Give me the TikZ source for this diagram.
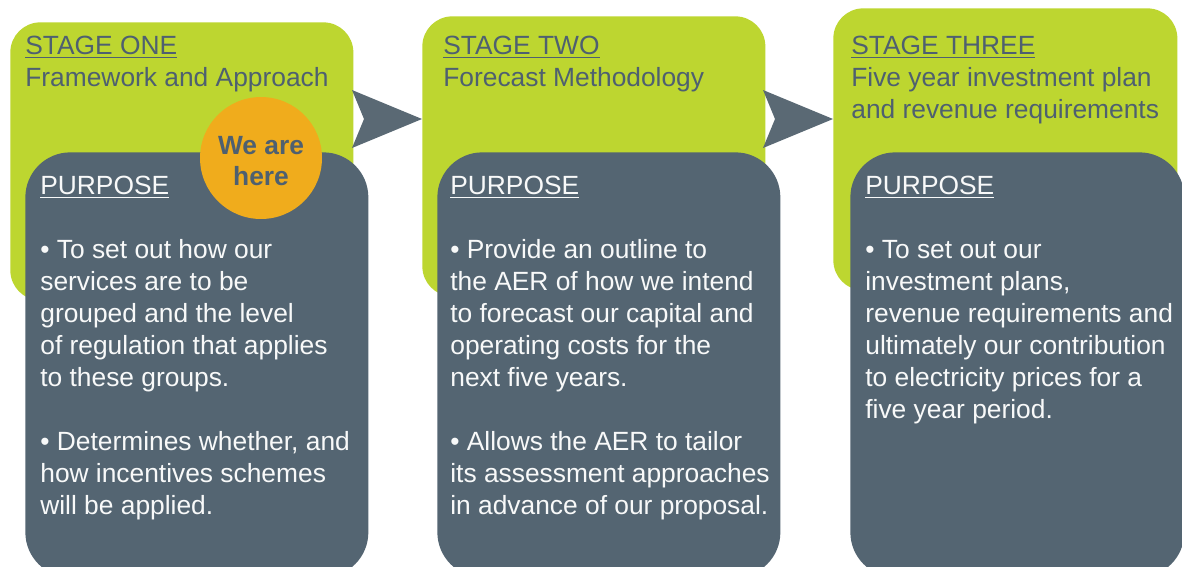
\documentclass[tikz,border=0pt]{standalone}
\usepackage{fontspec}
\setmainfont{Liberation Sans}

\definecolor{stgreen}{RGB}{189, 214, 48}
\definecolor{stslate}{RGB}{84, 101, 114}
\definecolor{stink}{RGB}{78, 96, 112}
\definecolor{starrow}{RGB}{90, 105, 116}
\definecolor{storange}{RGB}{240, 172, 28}

\begin{document}
\begin{tikzpicture}[x=0.02cm, y=-0.02cm, font=\fontsize{15}{18.2}\selectfont,
    stagebox/.style={fill=stgreen, rounded corners=0.6cm, inner sep=0pt, anchor=north west},
    purposebox/.style={fill=stslate, rounded corners=0.9cm, inner sep=0pt, anchor=north west},
    stagetext/.style={anchor=north west, align=left, inner sep=0pt, text=stink},
    purposetext/.style={anchor=north west, align=left, inner sep=0pt, text=white!96!stslate},
    chevron/.style={fill=starrow}]
      \clip (0,0) rectangle (1182,566);
      \fill[white] (0,0) rectangle (1182,566);
      \coordinate (arrowrow) at (0,119);

      % green stage boxes: name/left/top/width/height
      \foreach \n/\x/\y/\w/\h in {1/10/22/343/278, 2/422/16/343/280, 3/833/8/344/282} {
        \node[stagebox, minimum width=\w*0.02cm, minimum height=\h*0.02cm] (stage\n) at (\x,\y) {};
      }

      % chevrons between the stages
      \foreach \s in {2,3} {
        \fill[chevron] (stage\s.west |- arrowrow) -- ++(-70,-29) -- ++(12,29) -- ++(-12,29) -- cycle;
      }

      \node[stagetext] (title1) at (25,36) {\underline{STAGE ONE}\\Framework and Approach};
      \node[stagetext] (title2) at (443,36) {\underline{STAGE TWO}\\Forecast Methodology};
      \node[stagetext] (title3) at (851,36) {\underline{STAGE THREE}\\Five year investment plan\\and revenue requirements};

      % dark purpose boxes
      \foreach \n/\x/\w in {1/25/343, 2/437/343, 3/850/334} {
        \node[purposebox, minimum width=\w*0.02cm, minimum height=8.5cm] (purpose\n) at (\x,152) {};
      }

      \node[purposetext] (body1) at (40,176) {\underline{PURPOSE}\\[18.2pt]
        • To set out how our\\services are to be\\grouped and the level\\of regulation that applies\\to these groups.\\[18.2pt]
        • Determines whether, and\\how incentives schemes\\will be applied.};
      \node[purposetext] (body2) at (450,176) {\underline{PURPOSE}\\[18.2pt]
        • Provide an outline to\\the AER of how we intend\\to forecast our capital and\\operating costs for the\\next five years.\\[18.2pt]
        • Allows the AER to tailor\\its assessment approaches\\in advance of our proposal.};
      \node[purposetext] (body3) at (865,176) {\underline{PURPOSE}\\[18.2pt]
        • To set out our\\investment plans,\\revenue requirements and\\ultimately our contribution\\to electricity prices for a\\five year period.};

      % current stage marker
      \node[circle, fill=storange, minimum size=2.44cm, inner sep=0pt] (here) at (261,158) {};
      \node[align=center, inner sep=0pt, text=stink, font=\fontsize{15}{17.6}\selectfont\bfseries]
        (heretext) at (261,161.5) {We are\\here};
\end{tikzpicture}
\end{document}
